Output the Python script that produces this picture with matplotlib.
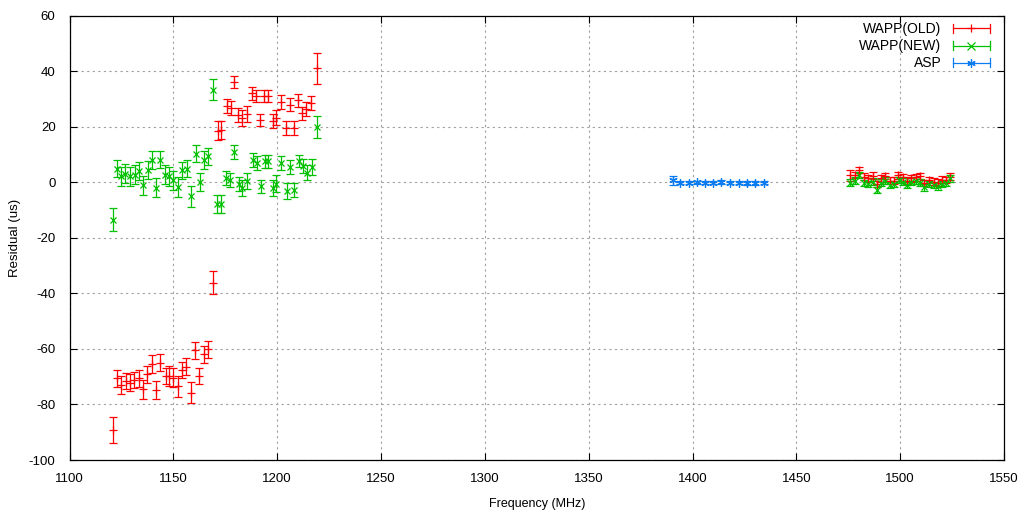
import matplotlib
matplotlib.use("Agg")
import matplotlib.pyplot as plt
from matplotlib.lines import Line2D
from matplotlib.legend_handler import HandlerBase

# ---------------- data ----------------
old_freq = [1121.1, 1123.0, 1124.8, 1127.2, 1129.1, 1131.1, 1133.5, 1135.5, 1137.3, 1139.9,
            1141.8, 1143.7, 1146.3, 1148.1, 1149.9, 1152.4, 1154.3, 1156.1, 1158.5, 1160.6,
            1162.5, 1164.8, 1166.7, 1169.0,
            1171.5, 1173.0, 1175.9, 1177.8, 1179.3, 1181.2, 1183.2, 1185.6, 1187.9, 1189.8,
            1191.8, 1193.7, 1195.6, 1198.0, 1199.5, 1201.9, 1204.3, 1206.2, 1208.2, 1210.1,
            1212.0, 1214.0, 1216.4, 1219.2,
            1475.9, 1478.3, 1480.4, 1482.4, 1484.5, 1486.7, 1488.8, 1490.7, 1492.8, 1494.9,
            1496.8, 1499.0, 1501.2, 1503.3, 1505.4, 1507.6, 1509.7, 1511.7, 1513.7, 1516.1,
            1518.2, 1520.1, 1522.2, 1524.1]
old_res = [-89.2, -70.6, -73.0, -71.5, -72.1, -71.2, -70.6, -74.6, -69.1, -65.5,
           -74.8, -64.9, -69.8, -69.8, -70.3, -73.4, -67.6, -66.4, -75.7, -60.5,
           -69.8, -62.0, -60.2, -36.1,
           18.6, 18.8, 27.5, 26.8, 36.1, 24.3, 23.2, 24.6, 32.0, 31.0,
           22.3, 31.0, 31.0, 22.0, 23.3, 28.8, 19.5, 28.0, 19.5, 29.5,
           24.8, 26.5, 28.5, 41.0,
           2.6, 2.6, 4.4, 2.0, 1.4, 2.4, -0.6, 1.4, 2.3, 0.6,
           0.6, 2.5, 1.8, 0.6, 1.4, 1.8, 2.3, -0.3, 0.8, 0.2,
           -0.1, 1.0, 0.8, 2.0]
old_err = [4.7, 3.0, 3.2, 3.0, 3.0, 3.0, 3.0, 3.5, 3.0, 3.2,
           3.2, 3.0, 3.0, 3.5, 3.5, 3.8, 3.0, 3.0, 3.8, 3.0,
           3.0, 3.2, 3.0, 4.2,
           3.5, 3.2, 2.5, 2.5, 2.2, 2.5, 2.8, 2.8, 2.5, 2.2,
           2.2, 2.2, 2.2, 2.5, 2.8, 2.5, 2.5, 2.2, 2.5, 2.2,
           2.5, 2.5, 2.5, 5.5,
           2.0, 1.2, 1.2, 1.2, 1.2, 1.2, 1.2, 1.2, 1.2, 1.2,
           1.2, 1.2, 1.2, 1.2, 1.2, 1.2, 1.2, 1.2, 1.2, 1.2,
           1.2, 1.2, 1.2, 1.2]

new_freq = [1121.1, 1123.0, 1125.0, 1126.9, 1129.0, 1131.4, 1133.3, 1135.3, 1137.7, 1139.6,
            1141.5, 1143.8, 1145.9, 1147.8, 1150.0, 1152.1, 1154.2, 1156.4, 1158.5, 1160.8,
            1162.9, 1164.9, 1166.8, 1169.3, 1170.9, 1173.0, 1175.4, 1177.2, 1179.4, 1181.4,
            1183.2, 1185.6, 1188.4, 1190.3, 1192.2, 1194.2, 1195.6, 1198.0, 1199.5, 1201.9,
            1204.8, 1206.2, 1208.2, 1210.6, 1212.5, 1214.4, 1216.8, 1219.2,
            1475.9, 1478.3, 1480.4, 1482.4, 1484.5, 1486.7, 1488.8, 1490.7, 1492.8, 1494.9,
            1496.8, 1499.2, 1501.2, 1503.3, 1505.4, 1507.6, 1509.7, 1511.7, 1513.7, 1516.1,
            1518.2, 1520.1, 1522.2, 1524.1]
new_res = [-13.5, 4.9, 2.1, 3.1, 2.1, 2.8, 4.0, -1.1, 4.5, 7.9,
           -1.9, 8.1, 2.8, 2.1, 0.7, -1.7, 4.3, 4.9, -5.0, 10.3,
           0.1, 8.1, 9.3, 33.3, -7.9, -7.7, 1.6, 0.9, 10.8, -0.5,
           -2.0, 0.5, 8.0, 7.0, -1.5, 7.5, 7.5, -2.0, -0.5, 7.0,
           -3.2, 5.5, -2.8, 7.6, 5.8, 3.5, 5.6, 20.0,
           -0.1, 0.6, 2.6, -0.3, -0.6, 0.2, -2.8, -0.1, 0.6, -1.0,
           -0.6, 0.8, 0.2, -1.0, 0.2, 0.6, -0.1, -1.8, -0.6, -1.0,
           -1.4, -0.6, -0.3, 1.4]
new_err = [4.2, 3.0, 3.5, 3.5, 3.5, 3.5, 3.2, 3.5, 3.2, 3.2,
           3.5, 3.0, 3.5, 3.5, 3.5, 3.5, 3.0, 3.0, 3.8, 3.0,
           3.2, 3.2, 3.0, 3.8, 3.2, 3.2, 2.5, 2.5, 2.5, 2.5,
           3.0, 3.0, 2.5, 2.5, 2.5, 2.5, 2.5, 3.0, 3.0, 2.5,
           2.8, 2.5, 2.5, 2.2, 2.5, 2.8, 2.8, 4.0,
           1.2, 1.2, 1.2, 1.2, 1.2, 1.2, 1.2, 1.2, 1.2, 1.2,
           1.2, 1.2, 1.2, 1.2, 1.2, 1.2, 1.2, 1.2, 1.2, 1.2,
           1.2, 1.2, 1.2, 1.2]

asp_freq = [1390.4, 1394.1, 1398.1, 1402.1, 1406.1, 1410.1, 1413.8, 1418.1, 1422.2, 1426.2,
            1430.2, 1434.2]
asp_res = [0.7, -0.2, -0.2, 0.0, -0.1, -0.1, 0.1, -0.1, -0.1, -0.3, -0.2, -0.1]
asp_err = [1.5, 0.5, 0.5, 0.6, 0.5, 0.5, 0.6, 0.5, 0.5, 0.6, 0.6, 0.5]

x_ticks = [1100, 1150, 1200, 1250, 1300, 1350, 1400, 1450, 1500, 1550]
y_ticks = [-100, -80, -60, -40, -20, 0, 20, 40, 60]

series_labels = ['WAPP(OLD)', 'WAPP(NEW)', 'ASP']
series_colors = ['#ff0000', '#00c000', '#0a7cf0']
series_markers = ['+', 'x', (6, 2, 0)]


class HErrHandler(HandlerBase):
    """gnuplot-style key sample: horizontal line with end ticks and centre marker."""

    def __init__(self, color, marker, **kw):
        super().__init__(**kw)
        self.color = color
        self.marker = marker

    def create_artists(self, legend, orig_handle, xdescent, ydescent, width, height,
                       fontsize, trans):
        y = height / 2 - ydescent
        x0, x1 = -xdescent, -xdescent + width
        h = 3.0
        arts = [
            Line2D([x0, x1], [y, y], color=self.color, lw=0.9),
            Line2D([x0, x0], [y - h, y + h], color=self.color, lw=0.9),
            Line2D([x1, x1], [y - h, y + h], color=self.color, lw=0.9),
            Line2D([(x0 + x1) / 2], [y], color=self.color, marker=self.marker,
                   markersize=6, markeredgewidth=0.9, linestyle='none'),
        ]
        for a in arts:
            a.set_transform(trans)
        return arts


# ---------------- plot ----------------
plt.rcParams['font.family'] = ['Liberation Sans', 'DejaVu Sans']
plt.rcParams['axes.unicode_minus'] = False
fig = plt.figure(figsize=(10.24, 5.12), dpi=100)
ax = fig.add_axes([69.5 / 1024, 1 - 460 / 512, (1004 - 69.5) / 1024, (460 - 15.7) / 512])

common = dict(linestyle='none', elinewidth=0.9, capsize=3, capthick=0.9,
              markeredgewidth=0.9)
data = [(old_freq, old_res, old_err, 6), (new_freq, new_res, new_err, 5),
        (asp_freq, asp_res, asp_err, 6)]
handles = []
handler_map = {}
for (fx, fy, fe, ms), lab, col, mk in zip(data, series_labels, series_colors, series_markers):
    h = ax.errorbar(fx, fy, yerr=fe, color=col, marker=mk, markersize=ms,
                    label=lab, **common)
    handles.append(h)
    handler_map[h] = HErrHandler(col, mk)

ax.set_xlim(1100, 1550)
ax.set_ylim(-100, 60)
ax.set_xticks(x_ticks)
ax.set_yticks(y_ticks)
ax.grid(True, color='#a0a0a0', linestyle=(0, (2, 3)), linewidth=0.8)
ax.set_axisbelow(True)
ax.tick_params(axis='both', direction='in', length=5, width=0.8, top=True, right=True,
               labelsize=9.5, colors='black')
ax.tick_params(axis='y', pad=10)
ax.tick_params(axis='x', pad=9)
for s in ax.spines.values():
    s.set_linewidth(0.9)
ax.set_xlabel('Frequency (MHz)', fontsize=9, labelpad=10)
ax.set_ylabel('Residual (us)', fontsize=9.5, labelpad=6)

leg = ax.legend(handles, series_labels, handler_map=handler_map, loc='upper right',
                bbox_to_anchor=(1.0017, 1.021), frameon=False, markerfirst=False,
                fontsize=10, handlelength=2.66, handletextpad=0.8, labelspacing=0.22,
                borderaxespad=0.75)

fig.savefig('out.png', dpi=100)
